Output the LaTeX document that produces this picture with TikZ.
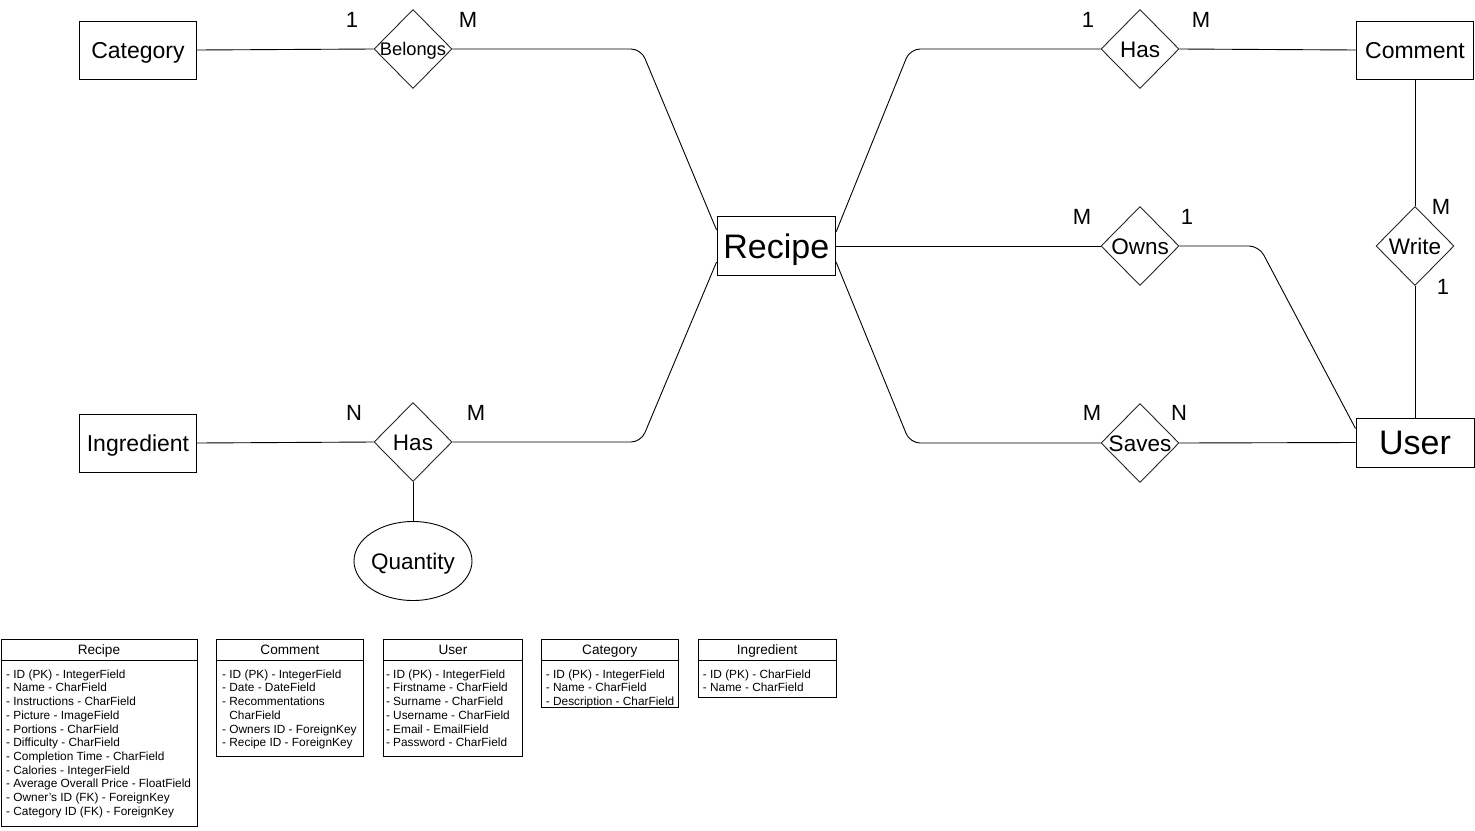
\documentclass[tikz,border=0pt]{standalone}
\usepackage{fontspec}
\setmainfont{Liberation Sans}
\usetikzlibrary{shapes.geometric}
\begin{document}
\begin{tikzpicture}[x=1pt,y=-1pt,
  ent/.style={draw, line width=1pt, minimum width=117pt, minimum height=58pt, inner sep=0pt, text height=16.5pt, text depth=0pt, font=\fontsize{23}{27}\selectfont},
  bigent/.style={ent, text height=24.3pt, font=\fontsize{34}{40}\selectfont},
  rel/.style={draw=black!85, diamond, line width=0.9pt, minimum width=78pt, minimum height=79pt, inner sep=0pt},
  rlab/.style={font=\fontsize{22.5}{26}\selectfont, inner sep=0pt, text height=16.1pt, text depth=0pt},
  card/.style={font=\fontsize{22}{26}\selectfont, inner sep=0pt},
  conn/.style={line width=0.9pt, rounded corners=10pt},
  thead/.style={draw, line width=0.9pt, anchor=north west, inner sep=0pt, minimum height=21pt, text height=9.7pt, text depth=0pt, font=\fontsize{13.6}{16}\selectfont},
  tbody/.style={draw, line width=0.9pt, anchor=north west, inner sep=0pt},
  ttext/.style={anchor=north west, inner sep=0pt, align=left, font=\fontsize{11.85}{13.7}\selectfont},
]
\useasboundingbox (0,0) rectangle (1475,830);

% entities
\node[ent] (category) at (138,50) {Category};
\node[ent] (ingredient) at (138,443) {Ingredient};
\node[ent] (comment) at (1415,50) {Comment};
\node[bigent, minimum width=118.5pt, minimum height=59.5pt] (recipe) at (776.3,246) {Recipe};
\node[bigent, minimum width=118pt, minimum height=49pt] (user) at (1415,442.5) {User};

% relationships
\node[rel] (belongs) at (413,49) {};
\node[rlab, text height=13.1pt, font=\fontsize{18.3}{22}\selectfont] (belongsT) at (belongs) {Belongs};
\node[rel] (hasI) at (413,442) {};
\node[rlab] (hasIT) at (hasI) {Has};
\node[rel] (hasC) at (1140,49) {};
\node[rlab] (hasCT) at (hasC) {Has};
\node[rel] (owns) at (1140,246) {};
\node[rlab] (ownsT) at (owns) {Owns};
\node[rel] (saves) at (1140,443) {};
\node[rlab] (savesT) at (saves) {Saves};
\node[rel] (write) at (1415,246) {};
\node[rlab] (writeT) at (write) {Write};

% attribute
\node[draw, ellipse, line width=0.9pt, minimum width=118pt, minimum height=79pt, inner sep=0pt] (quantity) at (413,561) {};
\node[rlab] (quantityT) at (quantity) {Quantity};

% corner coordinates
\coordinate (c1) at (641,49);
\coordinate (c2) at (641,442);
\coordinate (c3) at (910,49);
\coordinate (c4) at (910,443);
\coordinate (c5) at (1259,246);

% connectors
\draw[conn] (category.east) -- (belongs.west);
\draw[conn] (belongs.east) -- (c1) -- ([yshift=16pt]recipe.west);
\draw[conn] (ingredient.east) -- (hasI.west);
\draw[conn] (hasI.east) -- (c2) -- ([yshift=-16pt]recipe.west);
\draw[conn] (hasI.south) -- (quantity.north);
\draw[conn] ([yshift=14pt]recipe.east) -- (c3) -- (hasC.west);
\draw[conn] (recipe.east) -- (owns.west);
\draw[conn] ([yshift=-16pt]recipe.east) -- (c4) -- (saves.west);
\draw[conn] (hasC.east) -- (comment.west);
\draw[conn] (comment.south) -- (write.north);
\draw[conn] (write.south) -- (user.north);
\draw[conn] (owns.east) -- (c5) -- ([yshift=14pt]user.west);
\draw[conn] (saves.east) -- (user.west);

% cardinalities
\node[card] (k1) at (352,20) {1};
\node[card] (k2) at (468,20) {M};
\node[card] (k3) at (1088,20) {1};
\node[card] (k4) at (1201,20) {M};
\node[card] (k5) at (1082,217) {M};
\node[card] (k6) at (1187,217) {1};
\node[card] (k7) at (1441,207) {M};
\node[card] (k8) at (1443,287) {1};
\node[card] (k9) at (1092,413) {M};
\node[card] (k10) at (1179,413) {N};
\node[card] (k11) at (354,413) {N};
\node[card] (k12) at (476,413) {M};

% tables
\node[thead, minimum width=196pt] (tRecipe) at (0.5,639) {Recipe};
\node[tbody, minimum width=196pt, minimum height=166pt] (tRecipeB) at (0.5,660) {};
\node[ttext] (tRecipeT) at ([xshift=5.5pt,yshift=-9.5pt]tRecipeB.north west) {- ID (PK) - IntegerField\\- Name - CharField\\- Instructions - CharField\\- Picture - ImageField\\- Portions - CharField\\- Difficulty - CharField\\- Completion Time - CharField\\- Calories - IntegerField\\- Average Overall Price - FloatField\\- Owner's ID (FK) - ForeignKey\\- Category ID (FK) - ForeignKey};

\node[thead, minimum width=147pt] (tComment) at (216,639) {Comment};
\node[tbody, minimum width=147pt, minimum height=96pt] (tCommentB) at (216,660) {};
\node[ttext] (tCommentT) at ([xshift=6pt,yshift=-9.5pt]tCommentB.north west) {- ID (PK) - IntegerField\\- Date - DateField\\- Recommentations\\\phantom{- }CharField\\- Owners ID - ForeignKey\\- Recipe ID - ForeignKey};

\node[thead, minimum width=138.4pt] (tUser) at (383.3,639) {User};
\node[tbody, minimum width=138.4pt, minimum height=96pt] (tUserB) at (383.3,660) {};
\node[ttext] (tUserT) at ([xshift=2.5pt,yshift=-9.5pt]tUserB.north west) {- ID (PK) - IntegerField\\- Firstname - CharField\\- Surname - CharField\\- Username - CharField\\- Email - EmailField\\- Password - CharField};

\node[thead, minimum width=137.3pt] (tCategory) at (540.7,639) {Category};
\node[tbody, minimum width=137.3pt, minimum height=47pt] (tCategoryB) at (540.7,660) {};
\node[ttext] (tCategoryT) at ([xshift=5pt,yshift=-9.5pt]tCategoryB.north west) {- ID (PK) - IntegerField\\- Name - CharField\\- Description - CharField};

\node[thead, minimum width=138pt] (tIngredient) at (697.7,639) {Ingredient};
\node[tbody, minimum width=138pt, minimum height=37pt] (tIngredientB) at (697.7,660) {};
\node[ttext] (tIngredientT) at ([xshift=5pt,yshift=-9.5pt]tIngredientB.north west) {- ID (PK) - CharField\\- Name - CharField};
\end{tikzpicture}
\end{document}
